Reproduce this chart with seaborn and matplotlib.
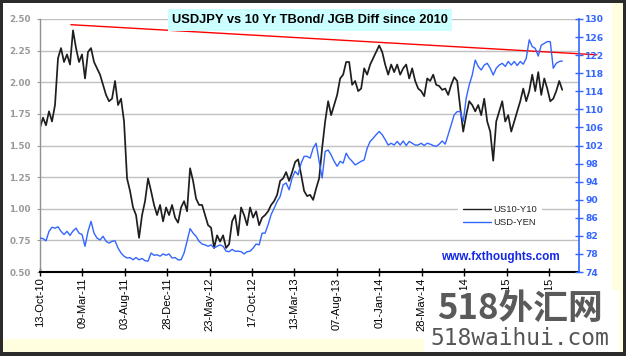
import numpy as np
import pandas as pd
import matplotlib
matplotlib.use("Agg")
import matplotlib.pyplot as plt
import matplotlib.dates as mdates
from matplotlib.patches import Rectangle
from matplotlib.ticker import FormatStrFormatter, FixedLocator
import seaborn as sns

# ---------------- data ----------------
start_date = "2010-10-13"
end_date = "2015-09-27"

us10_y10 = [
    1.64, 1.72, 1.66, 1.77, 1.69, 1.82, 2.19, 2.27, 2.16, 2.22, 2.14, 2.41, 2.27, 2.16, 2.22, 2.03,
    2.24, 2.27, 2.16, 2.11, 2.06, 1.98, 1.90, 1.85, 1.87, 2.01, 1.82, 1.87, 1.69, 1.24, 1.14, 1.01,
    0.95, 0.77, 0.95, 1.06, 1.24, 1.14, 1.03, 0.95, 1.03, 0.90, 1.01, 0.95, 1.03, 0.93, 0.89,
    1.01, 1.06, 0.98, 1.32, 1.22, 1.08, 1.03, 1.03, 0.95, 0.87, 0.85, 0.69, 0.79, 0.74, 0.79, 0.69,
    0.72, 0.90, 0.95, 0.79, 1.01, 0.95, 0.87, 1.01, 0.93, 0.98, 0.87, 0.93, 0.95, 0.98, 1.03, 1.06,
    1.11, 1.22, 1.24, 1.29, 1.22, 1.29, 1.37, 1.39, 1.27, 1.14, 1.10,
    1.11, 1.07, 1.16, 1.24, 1.48, 1.69, 1.85, 1.74, 1.82, 1.90, 2.03, 2.06, 2.16, 2.16, 1.98, 2.01,
    1.93, 1.95, 2.11, 2.06, 2.14, 2.19, 2.24, 2.29, 2.24, 2.14, 2.06, 2.14, 2.08, 2.14, 2.06, 2.11,
    2.14, 2.03, 2.11, 2.01, 1.95, 1.93, 1.89, 2.03, 2.01, 2.06, 1.98, 1.97, 1.94,
    1.95, 1.90, 1.98, 2.04, 2.01, 1.80, 1.61, 1.74, 1.85, 1.82, 1.77, 1.82, 1.74, 1.87, 1.69, 1.61,
    1.38, 1.69, 1.77, 1.85, 1.69, 1.74, 1.61, 1.69, 1.77, 1.85, 1.95, 1.85, 1.93, 2.06, 1.93, 2.08,
    1.90, 2.03, 1.95, 1.85, 1.87, 1.93, 2.01, 1.94,
]

usd_yen = [
    81.5, 81.4, 80.9, 83.0, 83.9, 83.7, 84.0, 83.0, 82.3, 83.0, 82.1, 83.1, 83.7, 82.6, 82.3, 79.7,
    83.0, 85.2, 82.6, 81.5, 81.1, 81.9, 80.8, 80.4, 80.8, 80.9, 79.3, 78.2, 77.5, 77.1, 77.2, 76.7,
    77.2, 76.7, 77.0, 76.5, 76.4, 78.2, 77.7, 77.8, 77.5, 78.0, 77.7, 78.0, 77.1, 77.2, 76.7,
    76.7, 78.2, 80.8, 83.6, 82.6, 81.9, 80.8, 80.2, 80.0, 79.7, 80.0, 79.3, 79.7, 80.0, 79.7, 78.6,
    78.5, 79.0, 78.6, 78.6, 78.5, 78.0, 78.5, 78.6, 79.3, 80.2, 80.0, 82.6, 82.6, 84.5, 86.7, 88.1,
    89.6, 90.7, 93.3, 93.7, 92.2, 94.8, 96.3, 95.5, 98.1, 99.6, 99.6,
    99.2, 101.4, 102.5, 98.5, 94.8, 100.7, 101.0, 99.9, 98.5, 97.4, 98.5, 98.1, 100.3, 99.2, 98.5, 97.7,
    98.1, 98.5, 98.8, 101.4, 102.9, 103.6, 104.4, 105.1, 104.4, 103.3, 102.1, 102.5, 102.1, 102.9, 102.1, 103.0,
    102.0, 102.9, 102.5, 102.1, 102.1, 102.5, 102.0, 102.5, 102.3, 102.0, 101.8, 102.3, 103.0,
    102.3, 104.4, 106.6, 108.8, 109.5, 109.5, 107.3, 112.5, 115.4, 117.6, 120.9, 119.5, 118.7, 119.8, 120.2, 119.1,
    117.6, 119.1, 119.8, 120.2, 119.5, 120.6, 119.8, 120.6, 119.7, 120.6, 120.0, 121.3, 125.4, 123.9, 123.5, 121.8,
    124.2, 124.6, 125.0, 125.0, 119.1, 120.2, 120.6, 120.7,
]

# red resistance trend line (left axis units)
trend_dates = ["2011-01-28", "2016-01-25"]
trend_values = [2.455, 2.217]

series_labels = ["US10-Y10", "USD-YEN"]
title = "USDJPY vs 10 Yr TBond/ JGB Diff since 2010"
site = "www.fxthoughts.com"
left_ticks = [0.50, 0.75, 1.00, 1.25, 1.50, 1.75, 2.00, 2.25, 2.50]
right_ticks = [74, 78, 82, 86, 90, 94, 98, 102, 106, 110, 114, 118, 122, 126, 130]
x_tick_dates = pd.date_range("2010-10-13", periods=13, freq="147D")
x_limits = ("2010-10-13", "2015-11-24")

dates = pd.date_range(start_date, end_date, periods=len(us10_y10))
df = pd.DataFrame({"date": dates, "diff": us10_y10, "yen": usd_yen})
trend_df = pd.DataFrame({"date": pd.to_datetime(trend_dates), "v": trend_values})

# ---------------- figure ----------------
sns.set_style("white")
plt.rcParams["font.family"] = ["Liberation Sans", "DejaVu Sans"]

W, H = 626, 356
fig = plt.figure(figsize=(W / 100, H / 100), dpi=100)
fig.patch.set_facecolor("#2b2b2b")


def rect_px(x0, y0, x1, y1, color, z):
    r = Rectangle((x0 / W, 1 - y1 / H), (x1 - x0) / W, (y1 - y0) / H,
                  transform=fig.transFigure, facecolor=color, edgecolor="none", zorder=z)
    fig.add_artist(r)


rect_px(3, 3, 623, 352, "#FFFFE0", -20)
rect_px(3, 3, 612, 339, "white", -19)

ax = fig.add_axes([40 / W, (H - 272) / H, 539 / W, 253 / H])
ax2 = ax.twinx()

sns.lineplot(data=df, x="date", y="diff", ax=ax, color="#1e1e1e", linewidth=1.25,
             estimator=None, legend=False)
sns.lineplot(data=trend_df, x="date", y="v", ax=ax, color="#FF0000", linewidth=1.0,
             estimator=None, legend=False, clip_on=False)
sns.lineplot(data=df, x="date", y="yen", ax=ax2, color="#3366FF", linewidth=1.0,
             estimator=None, legend=False)

ax.set_xlim(pd.to_datetime(x_limits[0]), pd.to_datetime(x_limits[1]))
ax.set_ylim(0.5, 2.5)
ax2.set_ylim(74, 130)
ax.set_xlabel("")
ax.set_ylabel("")
ax2.set_ylabel("")

ax.yaxis.set_major_locator(FixedLocator(left_ticks))
ax.yaxis.set_major_formatter(FormatStrFormatter("%.2f"))
ax2.yaxis.set_major_locator(FixedLocator(right_ticks))
ax.set_xticks(x_tick_dates)
ax.xaxis.set_major_formatter(mdates.DateFormatter("%d-%b-%y"))

ax.grid(False)
ax.yaxis.grid(True, color="#C0C0C0", linewidth=1.0)
ax2.grid(False)

ax.tick_params(axis="y", left=True, colors="#999999", labelsize=6.3, length=2.5,
               width=0.8, pad=4.0)
ax.tick_params(axis="x", bottom=True, direction="inout", length=6, width=1.0,
               colors="black", labelsize=8, pad=1)
for lab in ax.get_xticklabels():
    lab.set_rotation(90)
for lab in ax.get_yticklabels():
    lab.set_fontweight("bold")
    lab.set_family("DejaVu Sans")

ax2.tick_params(axis="y", right=True, direction="inout", length=6, width=1.0,
                colors="#3366FF", labelsize=6.6, pad=1.5)
for lab in ax2.get_yticklabels():
    lab.set_fontweight("bold")
    lab.set_family("DejaVu Sans")

for s in ["top", "right"]:
    ax.spines[s].set_visible(False)
ax.spines["left"].set_color("#909090")
ax.spines["left"].set_linewidth(1.0)
ax.spines["bottom"].set_color("black")
ax.spines["bottom"].set_linewidth(1.5)
for s in ["top", "left", "bottom"]:
    ax2.spines[s].set_visible(False)
ax2.spines["right"].set_color("#3366FF")
ax2.spines["right"].set_linewidth(1.2)

leg = ax2.legend([ax.lines[0], ax2.lines[0]], series_labels,
                 loc="upper left", bbox_to_anchor=(458 / W, 1 - 200 / H),
                 bbox_transform=fig.transFigure, borderaxespad=0, fontsize=6.8,
                 handlelength=2.9, handletextpad=0.25, labelspacing=0.45,
                 borderpad=0.55, frameon=True, fancybox=False)
leg.get_frame().set_facecolor("white")
leg.get_frame().set_edgecolor("none")
leg.get_frame().set_alpha(1)
leg.get_lines()[0].set_linewidth(1.0)

fig.text(310 / W, 1 - 20 / H, title, ha="center", va="center", fontsize=9.3,
         fontweight="bold", color="black", zorder=10,
         bbox=dict(boxstyle="square,pad=0.35", facecolor="#CCFFFF", edgecolor="none"))
fig.text(500.5 / W, 1 - 257 / H, site, ha="center", va="center", fontsize=8.5,
         fontweight="bold", color="#1428E6", zorder=10)

# watermark (covers part of the tick labels, as in the reference)
rect_px(424, 290, 619, 352, "white", 20)
fig.text(520 / W, 1 - 308.5 / H, "518外汇网", ha="center", va="center", fontsize=25,
         fontweight="bold", color="#5a5a5a", zorder=21,
         family=["Noto Sans CJK SC", "DejaVu Sans"])
fig.text(520 / W, 1 - 338.5 / H, "518waihui.com", ha="center", va="center", fontsize=16.5,
         color="#555555", zorder=21, family=["DejaVu Sans Mono"])

fig.savefig("out.png", dpi=100, facecolor=fig.get_facecolor())
